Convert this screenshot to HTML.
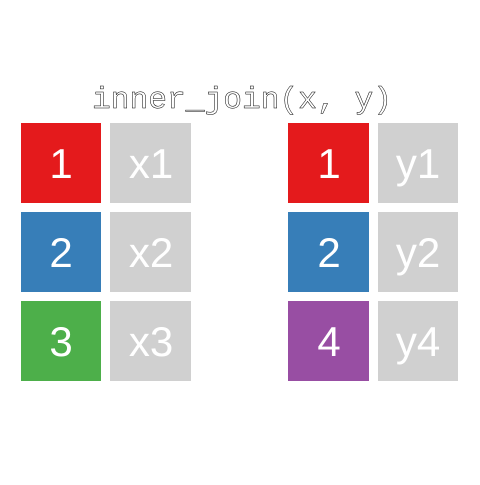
<!DOCTYPE html>
<html><head><style>html,body{margin:0;padding:0;background:#fff}</style></head><body>
<svg width="480" height="480" viewBox="0 0 480 480" xmlns="http://www.w3.org/2000/svg">
<rect width="480" height="480" fill="#fff"/>
<text x="242" y="108" text-anchor="middle" font-family="Liberation Mono, monospace" font-size="31" fill="#fff" stroke="#000" stroke-width="0.5" textLength="300" lengthAdjust="spacingAndGlyphs">inner_join(x, y)</text>
<g font-family="Liberation Sans, sans-serif" font-size="42" fill="#fff" text-anchor="middle">
<rect x="21" y="123" width="80" height="80" fill="#E41A1C"/>
<rect x="110" y="123" width="81" height="80" fill="#D0D0D0"/>
<rect x="21" y="212" width="80" height="80" fill="#377EB8"/>
<rect x="110" y="212" width="81" height="80" fill="#D0D0D0"/>
<rect x="21" y="301" width="80" height="80" fill="#4DAF4A"/>
<rect x="110" y="301" width="81" height="80" fill="#D0D0D0"/>
<rect x="288" y="123" width="81" height="80" fill="#E41A1C"/>
<rect x="378" y="123" width="80" height="80" fill="#D0D0D0"/>
<rect x="288" y="212" width="81" height="80" fill="#377EB8"/>
<rect x="378" y="212" width="80" height="80" fill="#D0D0D0"/>
<rect x="288" y="301" width="81" height="80" fill="#984EA3"/>
<rect x="378" y="301" width="80" height="80" fill="#D0D0D0"/>
<text x="61" y="178">1</text><text x="151" y="178">x1</text>
<text x="61" y="267">2</text><text x="151" y="267">x2</text>
<text x="61" y="356">3</text><text x="151" y="356">x3</text>
<text x="329" y="178">1</text><text x="418" y="178">y1</text>
<text x="329" y="267">2</text><text x="418" y="267">y2</text>
<text x="329" y="356">4</text><text x="418" y="356">y4</text>
</g>
</svg>
</body></html>
